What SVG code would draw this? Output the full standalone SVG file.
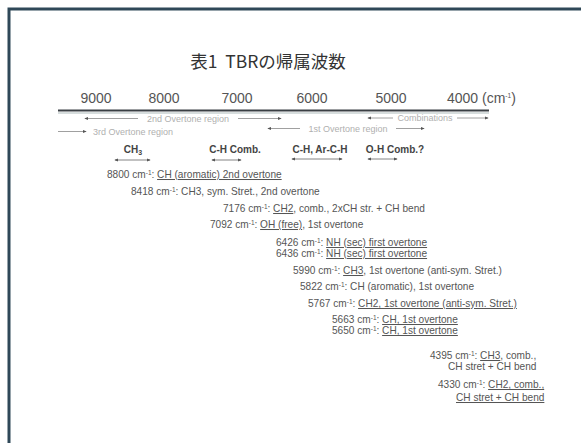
<svg xmlns="http://www.w3.org/2000/svg" width="581" height="443" viewBox="0 0 581 443">
<defs>
<marker id="ah" viewBox="0 0 6 6" refX="5" refY="3" markerWidth="5" markerHeight="5" orient="auto-start-reverse">
<path d="M0,0.5 L6,3 L0,5.5 z" fill="#555"/>
</marker>
<style>
.frame{stroke:#2f4858;stroke-width:3;fill:none}
.title{font-family:"Noto Sans CJK JP","Liberation Sans",sans-serif;font-size:17.5px;fill:#333}
.ax{font-family:"Liberation Sans",Arial,sans-serif;font-size:14px;fill:#555}
.reg{font-family:"Liberation Sans",Arial,sans-serif;font-size:9px;fill:#b0b0b0}
.rl{stroke:#888;stroke-width:0.8;fill:none}
.hd{font-family:"Liberation Sans",Arial,sans-serif;font-size:10px;font-weight:bold;fill:#444}
.hl{stroke:#666;stroke-width:0.8;fill:none}
.d{font-family:"Liberation Sans",Arial,sans-serif;font-size:10.1px;fill:#555}
.u{text-decoration:underline}
.sup{font-size:6.5px}
</style>
</defs>
<rect width="581" height="443" fill="#ffffff"/>
<path class="frame" d="M9,443 V9 H581"/>
<g id="title"><text class="title" x="268" y="68" text-anchor="middle" xml:space="preserve">表1  TBRの帰属波数</text></g>
<g id="axis">
<text class="ax" x="96" y="103" text-anchor="middle">9000</text>
<text class="ax" x="164" y="103" text-anchor="middle">8000</text>
<text class="ax" x="237" y="103" text-anchor="middle">7000</text>
<text class="ax" x="312" y="103" text-anchor="middle">6000</text>
<text class="ax" x="391" y="103" text-anchor="middle">5000</text>
<text class="ax" x="447" y="103">4000 (cm<tspan class="sup" dy="-5">-1</tspan><tspan dy="5">)</tspan></text>
<line x1="58" y1="110.5" x2="489" y2="110.5" stroke="#3a3f44" stroke-width="2"/>
<line x1="58" y1="113" x2="489" y2="113" stroke="#9aa" stroke-width="0.8"/>
</g>
<g id="connectors">
<line class="rl" x1="85" y1="118.5" x2="138" y2="118.5" marker-start="url(#ah)"/>
<line class="rl" x1="238" y1="118.5" x2="281" y2="118.5" marker-end="url(#ah)"/>
<line class="rl" x1="58" y1="131.5" x2="86" y2="131.5" marker-end="url(#ah)"/>
<line class="rl" x1="268" y1="128.5" x2="300" y2="128.5" marker-start="url(#ah)"/>
<line class="rl" x1="396" y1="128.5" x2="424" y2="128.5" marker-end="url(#ah)"/>
<line class="rl" x1="368" y1="118" x2="393" y2="118" marker-start="url(#ah)"/>
<line class="rl" x1="457" y1="118" x2="488" y2="118" marker-end="url(#ah)"/>
<line class="hl" x1="115" y1="160" x2="150" y2="160" marker-start="url(#ah)" marker-end="url(#ah)"/>
<line class="hl" x1="212" y1="160" x2="241" y2="160" marker-start="url(#ah)" marker-end="url(#ah)"/>
<line class="hl" x1="292" y1="159" x2="342" y2="159" marker-start="url(#ah)" marker-end="url(#ah)"/>
<line class="hl" x1="368" y1="159" x2="397" y2="159" marker-start="url(#ah)" marker-end="url(#ah)"/>
</g>
<g id="regions">
<text class="reg" x="188" y="121.5" text-anchor="middle">2nd Overtone region</text>
<text class="reg" x="93" y="134.5">3rd Overtone region</text>
<text class="reg" x="348" y="131.5" text-anchor="middle">1st Overtone region</text>
<text class="reg" x="425" y="121" text-anchor="middle">Combinations</text>
</g>
<g id="headers">
<text class="hd" x="133" y="153" text-anchor="middle">CH<tspan font-size="7" dy="2">3</tspan></text>
<text class="hd" x="235" y="153" text-anchor="middle">C-H Comb.</text>
<text class="hd" x="320" y="153" text-anchor="middle">C-H, Ar-C-H</text>
<text class="hd" x="395" y="153" text-anchor="middle">O-H Comb.?</text>
</g>
<g id="assignments">
<text class="d" x="107" y="178">8800 cm<tspan class="sup" dy="-3">-1</tspan><tspan dy="3">: </tspan><tspan class="u">CH (aromatic) 2nd overtone</tspan></text>
<text class="d" x="131" y="195">8418 cm<tspan class="sup" dy="-3">-1</tspan><tspan dy="3">: CH3, sym. Stret., 2nd overtone</tspan></text>
<text class="d" x="223" y="212">7176 cm<tspan class="sup" dy="-3">-1</tspan><tspan dy="3">: </tspan><tspan class="u">CH2</tspan><tspan>, comb., 2xCH str. + CH bend</tspan></text>
<text class="d" x="210" y="228">7092 cm<tspan class="sup" dy="-3">-1</tspan><tspan dy="3">: </tspan><tspan class="u">OH (free)</tspan><tspan>, 1st overtone</tspan></text>
<text class="d" x="276" y="246">6426 cm<tspan class="sup" dy="-3">-1</tspan><tspan dy="3">: </tspan><tspan class="u">NH (sec) first overtone</tspan></text>
<text class="d" x="276" y="257">6436 cm<tspan class="sup" dy="-3">-1</tspan><tspan dy="3">: </tspan><tspan class="u">NH (sec) first overtone</tspan></text>
<text class="d" x="293" y="274">5990 cm<tspan class="sup" dy="-3">-1</tspan><tspan dy="3">: </tspan><tspan class="u">CH3</tspan><tspan>, 1st overtone (anti-sym. Stret.)</tspan></text>
<text class="d" x="300" y="290">5822 cm<tspan class="sup" dy="-3">-1</tspan><tspan dy="3">: CH (aromatic), 1st overtone</tspan></text>
<text class="d" x="308" y="307">5767 cm<tspan class="sup" dy="-3">-1</tspan><tspan dy="3">: </tspan><tspan class="u">CH2, 1st overtone (anti-sym. Stret.)</tspan></text>
<text class="d" x="332" y="323">5663 cm<tspan class="sup" dy="-3">-1</tspan><tspan dy="3">: </tspan><tspan class="u">CH, 1st overtone</tspan></text>
<text class="d" x="332" y="334">5650 cm<tspan class="sup" dy="-3">-1</tspan><tspan dy="3">: </tspan><tspan class="u">CH, 1st overtone</tspan></text>
<text class="d" x="430" y="359">4395 cm<tspan class="sup" dy="-3">-1</tspan><tspan dy="3">: </tspan><tspan class="u">CH3</tspan><tspan>, comb.,</tspan></text>
<text class="d" x="448" y="370">CH stret + CH bend</text>
<text class="d" x="438" y="388">4330 cm<tspan class="sup" dy="-3">-1</tspan><tspan dy="3">: </tspan><tspan class="u">CH2, comb.,</tspan></text>
<text class="d u" x="456" y="401">CH stret + CH bend</text>
</g>
</svg>
